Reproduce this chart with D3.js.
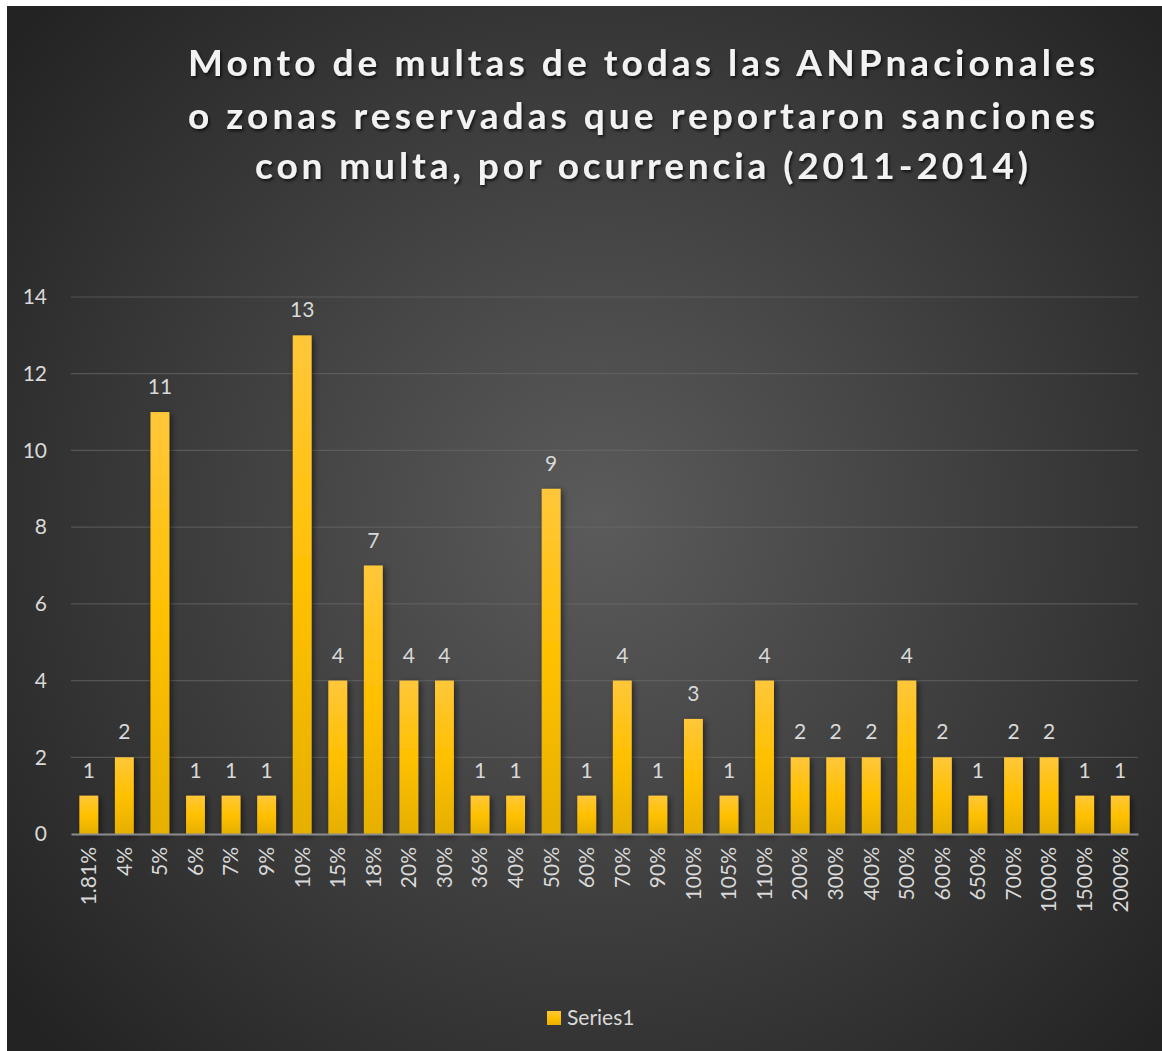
<!DOCTYPE html>
<html>
<head>
<meta charset="utf-8">
<script src="https://cdn.jsdelivr.net/npm/d3@7"></script>
<style>
  html, body { margin: 0; padding: 0; background: #fff; }
  svg { display: block; }
  text { font-family: Lato, "Open Sans", sans-serif; }
</style>
</head>
<body>
<div id="chart"></div>
<script>
// Data
const categories = ["1.81%", "4%", "5%", "6%", "7%", "9%", "10%", "15%", "18%", "20%",
  "30%", "36%", "40%", "50%", "60%", "70%", "90%", "100%", "105%", "110%",
  "200%", "300%", "400%", "500%", "600%", "650%", "700%", "1000%", "1500%", "2000%"];
const values = [1, 2, 11, 1, 1, 1, 13, 4, 7, 4, 4, 1, 1, 9, 1, 4, 1, 3, 1, 4,
  2, 2, 2, 4, 2, 1, 2, 2, 1, 1];
const yTicks = [0, 2, 4, 6, 8, 10, 12, 14];
const titleLines = [
  "Monto de multas de todas las ANPnacionales",
  "o zonas reservadas que reportaron sanciones",
  "con multa, por ocurrencia (2011-2014)",
];
const seriesName = "Series1";

// Dimensions
const width = 1162;
const height = 1051;
const margin = { top: 297, right: 24, bottom: 217, left: 71 };
const labelSize = 21;

const svg = d3.select("#chart").append("svg")
  .attr("width", width)
  .attr("height", height);

const defs = svg.append("defs");

// Background gradient
const bg = defs.append("radialGradient")
  .attr("id", "bg")
  .attr("gradientUnits", "userSpaceOnUse")
  .attr("cx", 600).attr("cy", 520).attr("r", 760);
bg.append("stop").attr("offset", "0%").attr("stop-color", "#5b5b5b");
bg.append("stop").attr("offset", "100%").attr("stop-color", "#232323");

// Bar gradient
const barGrad = defs.append("linearGradient")
  .attr("id", "bar")
  .attr("x1", 0).attr("y1", 0).attr("x2", 0).attr("y2", 1);
barGrad.append("stop").attr("offset", "0%").attr("stop-color", "#ffc73a");
barGrad.append("stop").attr("offset", "50%").attr("stop-color", "#ffc000");
barGrad.append("stop").attr("offset", "100%").attr("stop-color", "#e6b000");

const shadow = defs.append("filter").attr("id", "shadow")
  .attr("x", "-50%").attr("y", "-10%").attr("width", "200%").attr("height", "120%");
shadow.append("feDropShadow")
  .attr("dx", 2).attr("dy", 2).attr("stdDeviation", 3)
  .attr("flood-color", "#000").attr("flood-opacity", 0.55);

const textShadow = defs.append("filter").attr("id", "tshadow")
  .attr("x", "-5%").attr("y", "-20%").attr("width", "110%").attr("height", "140%");
textShadow.append("feDropShadow")
  .attr("dx", 1.5).attr("dy", 2).attr("stdDeviation", 1.5)
  .attr("flood-color", "#000").attr("flood-opacity", 0.7);

// Background
svg.append("rect").attr("x", 7).attr("y", 6)
  .attr("width", width - 7).attr("height", height - 6)
  .attr("fill", "url(#bg)");

// Scales
const xScale = d3.scaleBand()
  .domain(categories)
  .range([margin.left, width - margin.right])
  .paddingInner(0.47)
  .paddingOuter(0.235);

const yScale = d3.scaleLinear()
  .domain([0, 14])
  .range([height - margin.bottom, margin.top]);

// Title
const titleBox = [
  { y: 76, x1: 188, x2: 1095 },
  { y: 129, x1: 188, x2: 1095 },
  { y: 179, x1: 255, x2: 1028 },
];
svg.append("g")
  .attr("filter", "url(#tshadow)")
  .selectAll("text")
  .data(titleLines)
  .join("text")
  .attr("x", (d, i) => titleBox[i].x1)
  .attr("y", (d, i) => titleBox[i].y)
  .attr("textLength", (d, i) => titleBox[i].x2 - titleBox[i].x1)
  .attr("lengthAdjust", "spacing")
  .attr("fill", "#f2f2f2")
  .attr("font-size", 37)
  .attr("font-weight", 700)
  .text((d) => d);

// Gridlines
svg.append("g")
  .selectAll("line")
  .data(yTicks.filter((d) => d > 0))
  .join("line")
  .attr("x1", margin.left)
  .attr("x2", width - margin.right)
  .attr("y1", (d) => yScale(d))
  .attr("y2", (d) => yScale(d))
  .attr("stroke", "#6a6a6a")
  .attr("stroke-opacity", 0.6)
  .attr("stroke-width", 1.2);

// Y axis
const yAxisG = svg.append("g")
  .attr("transform", `translate(${margin.left},0)`)
  .call(d3.axisLeft(yScale).tickValues(yTicks).tickSize(0).tickPadding(24));
yAxisG.select(".domain").remove();
yAxisG.selectAll("text")
  .attr("fill", "#d9d9d9")
  .attr("font-size", labelSize)
  .style("font-family", "Lato, sans-serif");

// Bars
svg.append("g")
  .attr("filter", "url(#shadow)")
  .selectAll("rect")
  .data(values)
  .join("rect")
  .attr("x", (d, i) => xScale(categories[i]))
  .attr("y", (d) => yScale(d))
  .attr("width", xScale.bandwidth())
  .attr("height", (d) => yScale(0) - yScale(d))
  .attr("fill", "url(#bar)");

// X axis
const xAxisG = svg.append("g")
  .attr("transform", `translate(0,${yScale(0)})`)
  .call(d3.axisBottom(xScale).tickSize(0));
xAxisG.select(".domain")
  .attr("stroke", "#8c8c8c")
  .attr("stroke-width", 2);
xAxisG.selectAll("text")
  .attr("fill", "#d9d9d9")
  .attr("font-size", labelSize)
  .style("font-family", "Lato, sans-serif")
  .attr("text-anchor", "end")
  .attr("dy", "0.35em")
  .attr("transform", "translate(0,13) rotate(-90)")
  .attr("x", 0)
  .attr("y", 0);

// Data labels
svg.append("g")
  .selectAll("text")
  .data(values)
  .join("text")
  .attr("x", (d, i) => xScale(categories[i]) + xScale.bandwidth() / 2)
  .attr("y", (d) => yScale(d) - 18)
  .attr("text-anchor", "middle")
  .attr("fill", "#d9d9d9")
  .attr("font-size", labelSize)
  .text((d) => d);

// Legend
const legend = svg.append("g").attr("transform", "translate(547,1011)");
legend.append("rect")
  .attr("width", 14).attr("height", 14)
  .attr("fill", "url(#bar)");
legend.append("text")
  .attr("x", 20).attr("y", 14)
  .attr("fill", "#d9d9d9")
  .attr("font-size", labelSize)
  .text(seriesName);
</script>
</body>
</html>
